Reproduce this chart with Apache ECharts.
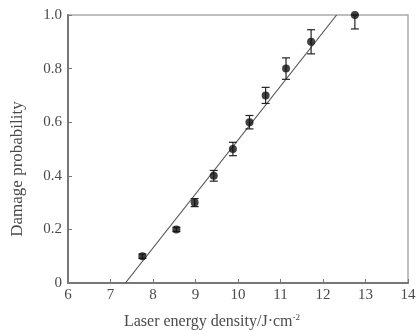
<!DOCTYPE html>
<html>
<head>
<meta charset="utf-8">
<script src="https://cdn.jsdelivr.net/npm/echarts@6/dist/echarts.min.js"></script>
<style>
  html, body { margin: 0; padding: 0; background: #fff; }
  #chart { width: 420px; height: 331px; }
</style>
</head>
<body>
<div id="chart"></div>
<script>
// measured points
const energy = [7.75, 8.55, 8.98, 9.43, 9.88, 10.27, 10.65, 11.13, 11.72, 12.75];
const prob = [0.1, 0.2, 0.3, 0.4, 0.5, 0.6, 0.7, 0.8, 0.9, 1.0];
const errUp = [0.008, 0.008, 0.015, 0.02, 0.025, 0.025, 0.03, 0.04, 0.045, 0];
const errDown = [0.008, 0.008, 0.015, 0.02, 0.025, 0.025, 0.03, 0.04, 0.045, 0.052];
// fitted line ends
const fitX = [7.35, 12.32];
const fitY = [0, 1.0];

const serif = "'Liberation Serif', 'DejaVu Serif', serif";
const chart = echarts.init(document.getElementById("chart"), null, { renderer: "canvas" });

const errData = energy.map((x, i) => [x, prob[i] - errDown[i], prob[i] + errUp[i]]);

const option = {
  animation: false,
  grid: {
    left: 68, right: 12, top: 15, bottom: 48,
    outerBoundsMode: "none",
    show: true, borderColor: "#aaa", borderWidth: 1.5
  },
  xAxis: {
    type: "value", min: 6, max: 14, interval: 1,
    splitLine: { show: false },
    axisLine: { lineStyle: { color: "#777", width: 2 } },
    axisTick: { inside: true, length: 4, lineStyle: { color: "#777" } },
    axisLabel: { color: "#4a4a4a", fontFamily: serif, fontSize: 15, margin: 5 },
    name: "Laser energy density/J·cm{sup|-2}",
    nameLocation: "middle", nameGap: 30,
    nameTextStyle: {
      color: "#4a4a4a", fontFamily: serif, fontSize: 16, padding: [0, 52, 0, 0],
      rich: { sup: { fontSize: 9, verticalAlign: "top", padding: [0, 0, 9, 0], color: "#4a4a4a" } }
    }
  },
  yAxis: {
    type: "value", min: 0, max: 1, interval: 0.2,
    splitLine: { show: false },
    axisLine: { lineStyle: { color: "#777", width: 2 } },
    axisTick: { inside: true, length: 4, lineStyle: { color: "#777" } },
    axisLabel: {
      color: "#4a4a4a", fontFamily: serif, fontSize: 15, margin: 6,
      formatter: v => (v === 0 ? "0" : v.toFixed(1))
    },
    name: "Damage probability",
    nameLocation: "middle", nameGap: 42,
    nameTextStyle: { color: "#4a4a4a", fontFamily: serif, fontSize: 17, padding: [0, 40, 0, 0] }
  },
  series: [
    {
      type: "line",
      data: fitX.map((x, i) => [x, fitY[i]]),
      symbol: "none",
      lineStyle: { color: "#555", width: 1.2 },
      z: 2
    },
    {
      type: "custom",
      data: errData,
      renderItem: (params, api) => {
        const x = api.value(0);
        const lo = api.coord([x, api.value(1)]);
        const hi = api.coord([x, api.value(2)]);
        const w = 4;
        const style = { stroke: "#222", lineWidth: 1.2 };
        return {
          type: "group",
          children: [
            { type: "line", shape: { x1: lo[0], y1: lo[1], x2: hi[0], y2: hi[1] }, style },
            { type: "line", shape: { x1: lo[0] - w, y1: lo[1], x2: lo[0] + w, y2: lo[1] }, style },
            { type: "line", shape: { x1: hi[0] - w, y1: hi[1], x2: hi[0] + w, y2: hi[1] }, style }
          ]
        };
      },
      z: 3
    },
    {
      type: "scatter",
      data: energy.map((x, i) => [x, prob[i]]),
      symbol: "circle",
      symbolSize: 8,
      itemStyle: { color: "#111" },
      z: 4
    }
  ]
};
chart.setOption(option);
</script>
</body>
</html>
